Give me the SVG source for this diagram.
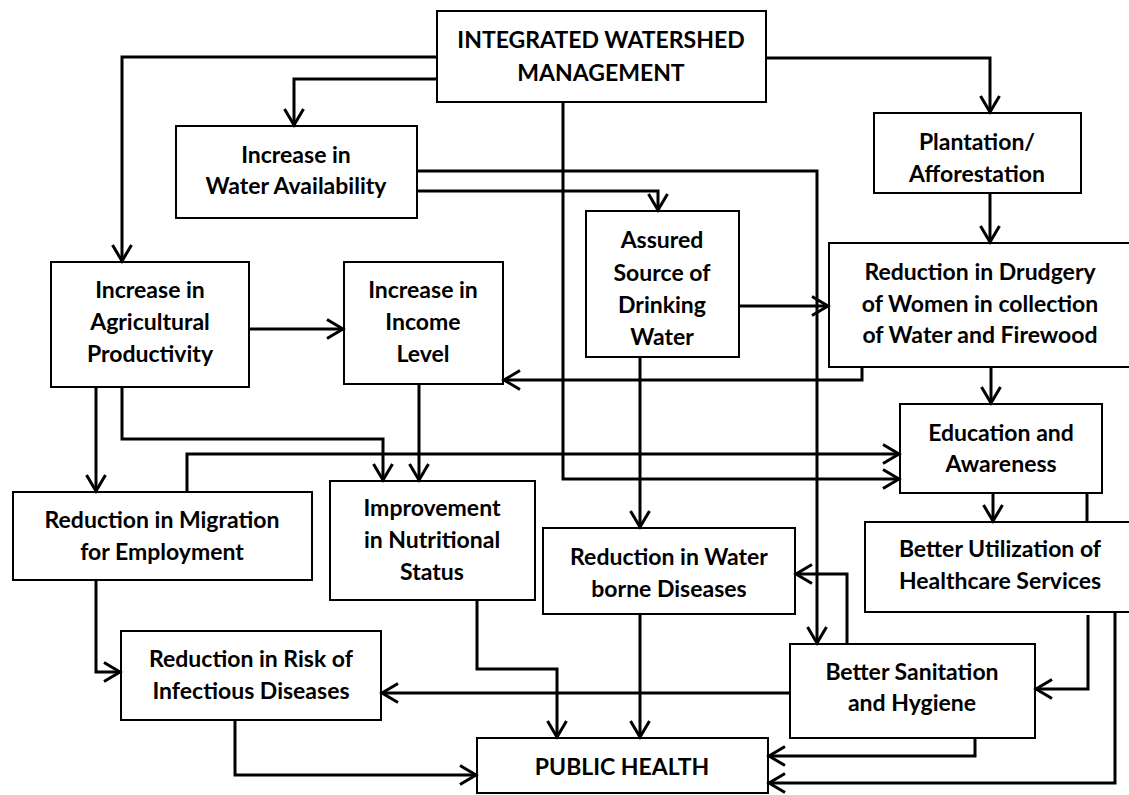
<svg xmlns="http://www.w3.org/2000/svg" width="1129" height="795" viewBox="0 0 1129 795">
<style>
.box{fill:#fff;stroke:#000;stroke-width:2}
.t{font-family:Lato,"Liberation Sans",sans-serif;font-weight:bold;font-size:23px;fill:#000;text-anchor:middle}
.c{fill:none;stroke:#000;stroke-width:3;stroke-linejoin:miter}
.a{marker-end:url(#ah)}
</style>
<defs>
<marker id="ah" markerUnits="userSpaceOnUse" markerWidth="22" markerHeight="26" viewBox="-19 -13 22 26" refX="0" refY="0" orient="auto">
<path d="M-16,-9.5 L0,0 L-16,9.5" fill="none" stroke="#000" stroke-width="3"/>
</marker>
</defs>
<rect width="1129" height="795" fill="#fff"/>

<g id="iwm"><rect class="box" x="437" y="11" width="329" height="91"/>
<text class="t" x="601" y="48">INTEGRATED WATERSHED</text><text class="t" x="601" y="81">MANAGEMENT</text></g>

<g id="water-availability"><rect class="box" x="176" y="126" width="241" height="92"/>
<text class="t" x="296" y="163">Increase in</text><text class="t" x="296" y="194">Water Availability</text></g>

<g id="plantation"><rect class="box" x="874" y="113" width="207" height="80"/>
<text class="t" x="977" y="150">Plantation/</text><text class="t" x="977" y="182">Afforestation</text></g>

<g id="drinking-water"><rect class="box" x="586" y="211" width="153" height="146"/>
<text class="t" x="662" y="248">Assured</text><text class="t" x="662" y="281">Source of</text><text class="t" x="662" y="313">Drinking</text><text class="t" x="662" y="345">Water</text></g>

<g id="agri"><rect class="box" x="51" y="262" width="198" height="125"/>
<text class="t" x="150" y="298">Increase in</text><text class="t" x="150" y="330">Agricultural</text><text class="t" x="150" y="362">Productivity</text></g>

<g id="income"><rect class="box" x="344" y="262" width="159" height="122"/>
<text class="t" x="423" y="298">Increase in</text><text class="t" x="423" y="330">Income</text><text class="t" x="423" y="362">Level</text></g>

<g id="drudgery"><rect class="box" x="829" y="243" width="302" height="124"/>
<text class="t" x="980" y="280">Reduction in Drudgery</text><text class="t" x="980" y="312">of Women in collection</text><text class="t" x="980" y="343">of Water and Firewood</text></g>

<g id="education"><rect class="box" x="900" y="404" width="202" height="89"/>
<text class="t" x="1001" y="441">Education and</text><text class="t" x="1001" y="472">Awareness</text></g>

<g id="migration"><rect class="box" x="13" y="492" width="299" height="88"/>
<text class="t" x="162" y="528">Reduction in Migration</text><text class="t" x="162" y="560">for Employment</text></g>

<g id="nutrition"><rect class="box" x="330" y="481" width="205" height="119"/>
<text class="t" x="432" y="516">Improvement</text><text class="t" x="432" y="548">in Nutritional</text><text class="t" x="432" y="580">Status</text></g>

<g id="waterborne"><rect class="box" x="543" y="528" width="252" height="86"/>
<text class="t" x="669" y="565">Reduction in Water</text><text class="t" x="669" y="597">borne Diseases</text></g>

<g id="healthcare"><rect class="box" x="865" y="522" width="266" height="90"/>
<text class="t" x="1000" y="557">Better Utilization of</text><text class="t" x="1000" y="589">Healthcare Services</text></g>

<g id="infectious"><rect class="box" x="121" y="631" width="260" height="89"/>
<text class="t" x="251" y="667">Reduction in Risk of</text><text class="t" x="251" y="699">Infectious Diseases</text></g>

<g id="sanitation"><rect class="box" x="790" y="644" width="245" height="94"/>
<text class="t" x="912" y="680">Better Sanitation</text><text class="t" x="912" y="711">and Hygiene</text></g>

<g id="public-health"><rect class="box" x="477" y="738" width="291" height="55"/>
<text class="t" x="622" y="775">PUBLIC HEALTH</text></g>

<g id="connectors">
<path class="c a" d="M437,57 H122 V261"/>
<path class="c a" d="M437,79 H294 V125"/>
<path class="c a" d="M766,58 H990 V112"/>
<path class="c a" d="M990,193 V242"/>
<path class="c a" d="M417,171 H817 V643"/>
<path class="c a" d="M417,191 H658 V210"/>
<path class="c a" d="M739,306 H828"/>
<path class="c a" d="M563,102 V479 H899"/>
<path class="c a" d="M187,492 V454 H899"/>
<path class="c a" d="M862,367 V380 H504"/>
<path class="c a" d="M249,329 H343"/>
<path class="c a" d="M96,387 V491"/>
<path class="c a" d="M122,387 V439 H383 V480"/>
<path class="c a" d="M419,384 V480"/>
<path class="c a" d="M640,357 V527"/>
<path class="c a" d="M991,367 V403"/>
<path class="c a" d="M993,493 V521"/>
<path class="c" d="M1087,493 V522"/>
<path class="c a" d="M847,644 V574 H796"/>
<path class="c a" d="M790,693 H382"/>
<path class="c a" d="M96,580 V672 H120"/>
<path class="c a" d="M477,600 V669 H557 V737"/>
<path class="c a" d="M640,614 V737"/>
<path class="c a" d="M235,720 V775 H476"/>
<path class="c a" d="M1088,615 V689 H1036"/>
<path class="c a" d="M1115,612 V783 H769"/>
<path class="c a" d="M975,738 V756 H769"/>
</g>
</svg>
